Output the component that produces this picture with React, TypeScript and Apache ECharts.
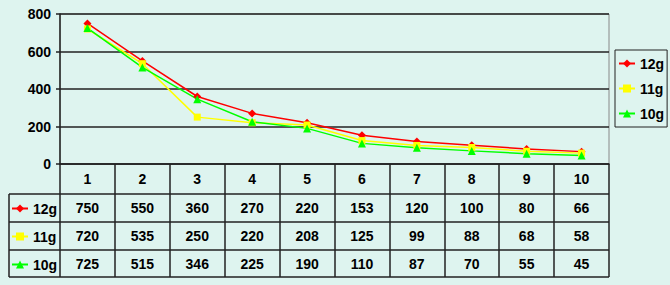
import React, { useEffect, useRef } from "react";
import * as echarts from "echarts";

const categories = ["1", "2", "3", "4", "5", "6", "7", "8", "9", "10"];
const seriesNames = ["12g", "11g", "10g"];
const values12g = [750, 550, 360, 270, 220, 153, 120, 100, 80, 66];
const values11g = [720, 535, 250, 220, 208, 125, 99, 88, 68, 58];
const values10g = [725, 515, 346, 225, 190, 110, 87, 70, 55, 45];
const yTicks = { min: 0, max: 800, interval: 200 };

const FONT = "'Liberation Sans', Arial, sans-serif";
const LINE = "#222";

export default function App() {
  const ref = useRef<HTMLDivElement>(null);
  useEffect(() => {
    if (!ref.current) return;
    const chart = echarts.init(ref.current, undefined, { renderer: "svg" });
    const seriesValues = [values12g, values11g, values10g];
    const colors = ["#ff0000", "#ffff00", "#00ff00"];
    const symbols = ["diamond", "rect", "triangle"];
    const symbolSizes = [8, 7, 8];
    const rowOffsets = [44, 72, 99.5];
    const textStyle = { fontFamily: FONT, fontWeight: "bold" as const, fontSize: 14, color: "#000" };

    const gridLeft = 60, gridTop = 14, gridW = 549, gridH = 150;
    const gridRight = gridLeft + gridW, gridBottom = gridTop + gridH;
    const tableLeft = 9;
    const rowLines = [194, 222, 250, 277];

    const graphic: any[] = rowLines.map((y) => ({
      type: "line",
      shape: { x1: tableLeft, y1: y, x2: gridRight, y2: y },
      style: { stroke: LINE, lineWidth: 1.5 },
    }));
    graphic.push({
      type: "line",
      shape: { x1: tableLeft, y1: rowLines[0], x2: tableLeft, y2: rowLines[rowLines.length - 1] },
      style: { stroke: LINE, lineWidth: 1.5 },
    });

    chart.setOption({
      animation: false,
      backgroundColor: "#def4ef",
      textStyle: { fontFamily: FONT },
      grid: {
        left: gridLeft,
        top: gridTop,
        width: gridW,
        height: gridH,
        show: true,
        borderColor: "#888",
        borderWidth: 1,
        backgroundColor: "transparent",
      },
      legend: [
        {
          data: seriesNames,
          orient: "vertical",
          left: 615,
          top: 50,
          padding: [6, 3, 6, 3],
          itemWidth: 16,
          itemHeight: 10,
          itemGap: 10,
          borderColor: LINE,
          borderWidth: 1,
          textStyle: { ...textStyle, lineHeight: 15 },
          selectedMode: false,
        },
        {
          data: seriesNames,
          orient: "vertical",
          left: 11,
          top: 201,
          padding: 0,
          itemWidth: 16,
          itemHeight: 10,
          itemGap: 13,
          textStyle: { ...textStyle, lineHeight: 15 },
          selectedMode: false,
        },
      ],
      xAxis: [
        {
          type: "category",
          data: categories,
          boundaryGap: true,
          axisLine: { show: true, lineStyle: { color: LINE, width: 1.5 } },
          axisTick: { show: true, length: rowLines[rowLines.length - 1] - gridBottom, interval: 0, lineStyle: { color: LINE, width: 1.5 } },
          axisLabel: { ...textStyle, margin: 15, verticalAlign: "middle", interval: 0 },
          splitLine: { show: false },
        },
        ...seriesValues.map((vals, i) => ({
          type: "category",
          gridIndex: 0,
          position: "bottom",
          offset: rowOffsets[i],
          data: vals.map(String),
          boundaryGap: true,
          axisLine: { show: false },
          axisTick: { show: false },
          axisLabel: { ...textStyle, margin: 0, verticalAlign: "middle", interval: 0 },
          splitLine: { show: false },
        })),
      ],
      yAxis: {
        type: "value",
        min: yTicks.min,
        max: yTicks.max,
        interval: yTicks.interval,
        axisLine: { show: true, lineStyle: { color: LINE, width: 1.5 } },
        axisTick: { show: true, length: 4, lineStyle: { color: LINE, width: 1.5 } },
        axisLabel: { ...textStyle, margin: 9 },
        splitLine: { show: true, lineStyle: { color: LINE, width: 1.5 } },
      },
      series: seriesNames.map((name, i) => ({
        name,
        type: "line",
        xAxisIndex: 0,
        data: seriesValues[i],
        symbol: symbols[i],
        symbolSize: symbolSizes[i],
        showSymbol: true,
        itemStyle: { color: colors[i] },
        lineStyle: { color: colors[i], width: 1.5 },
      })),
      graphic,
    });
    return () => chart.dispose();
  }, []);
  return (
    <div
      ref={ref}
      style={{ position: "fixed", left: 0, top: 0, width: 670, height: 285 }}
    />
  );
}
